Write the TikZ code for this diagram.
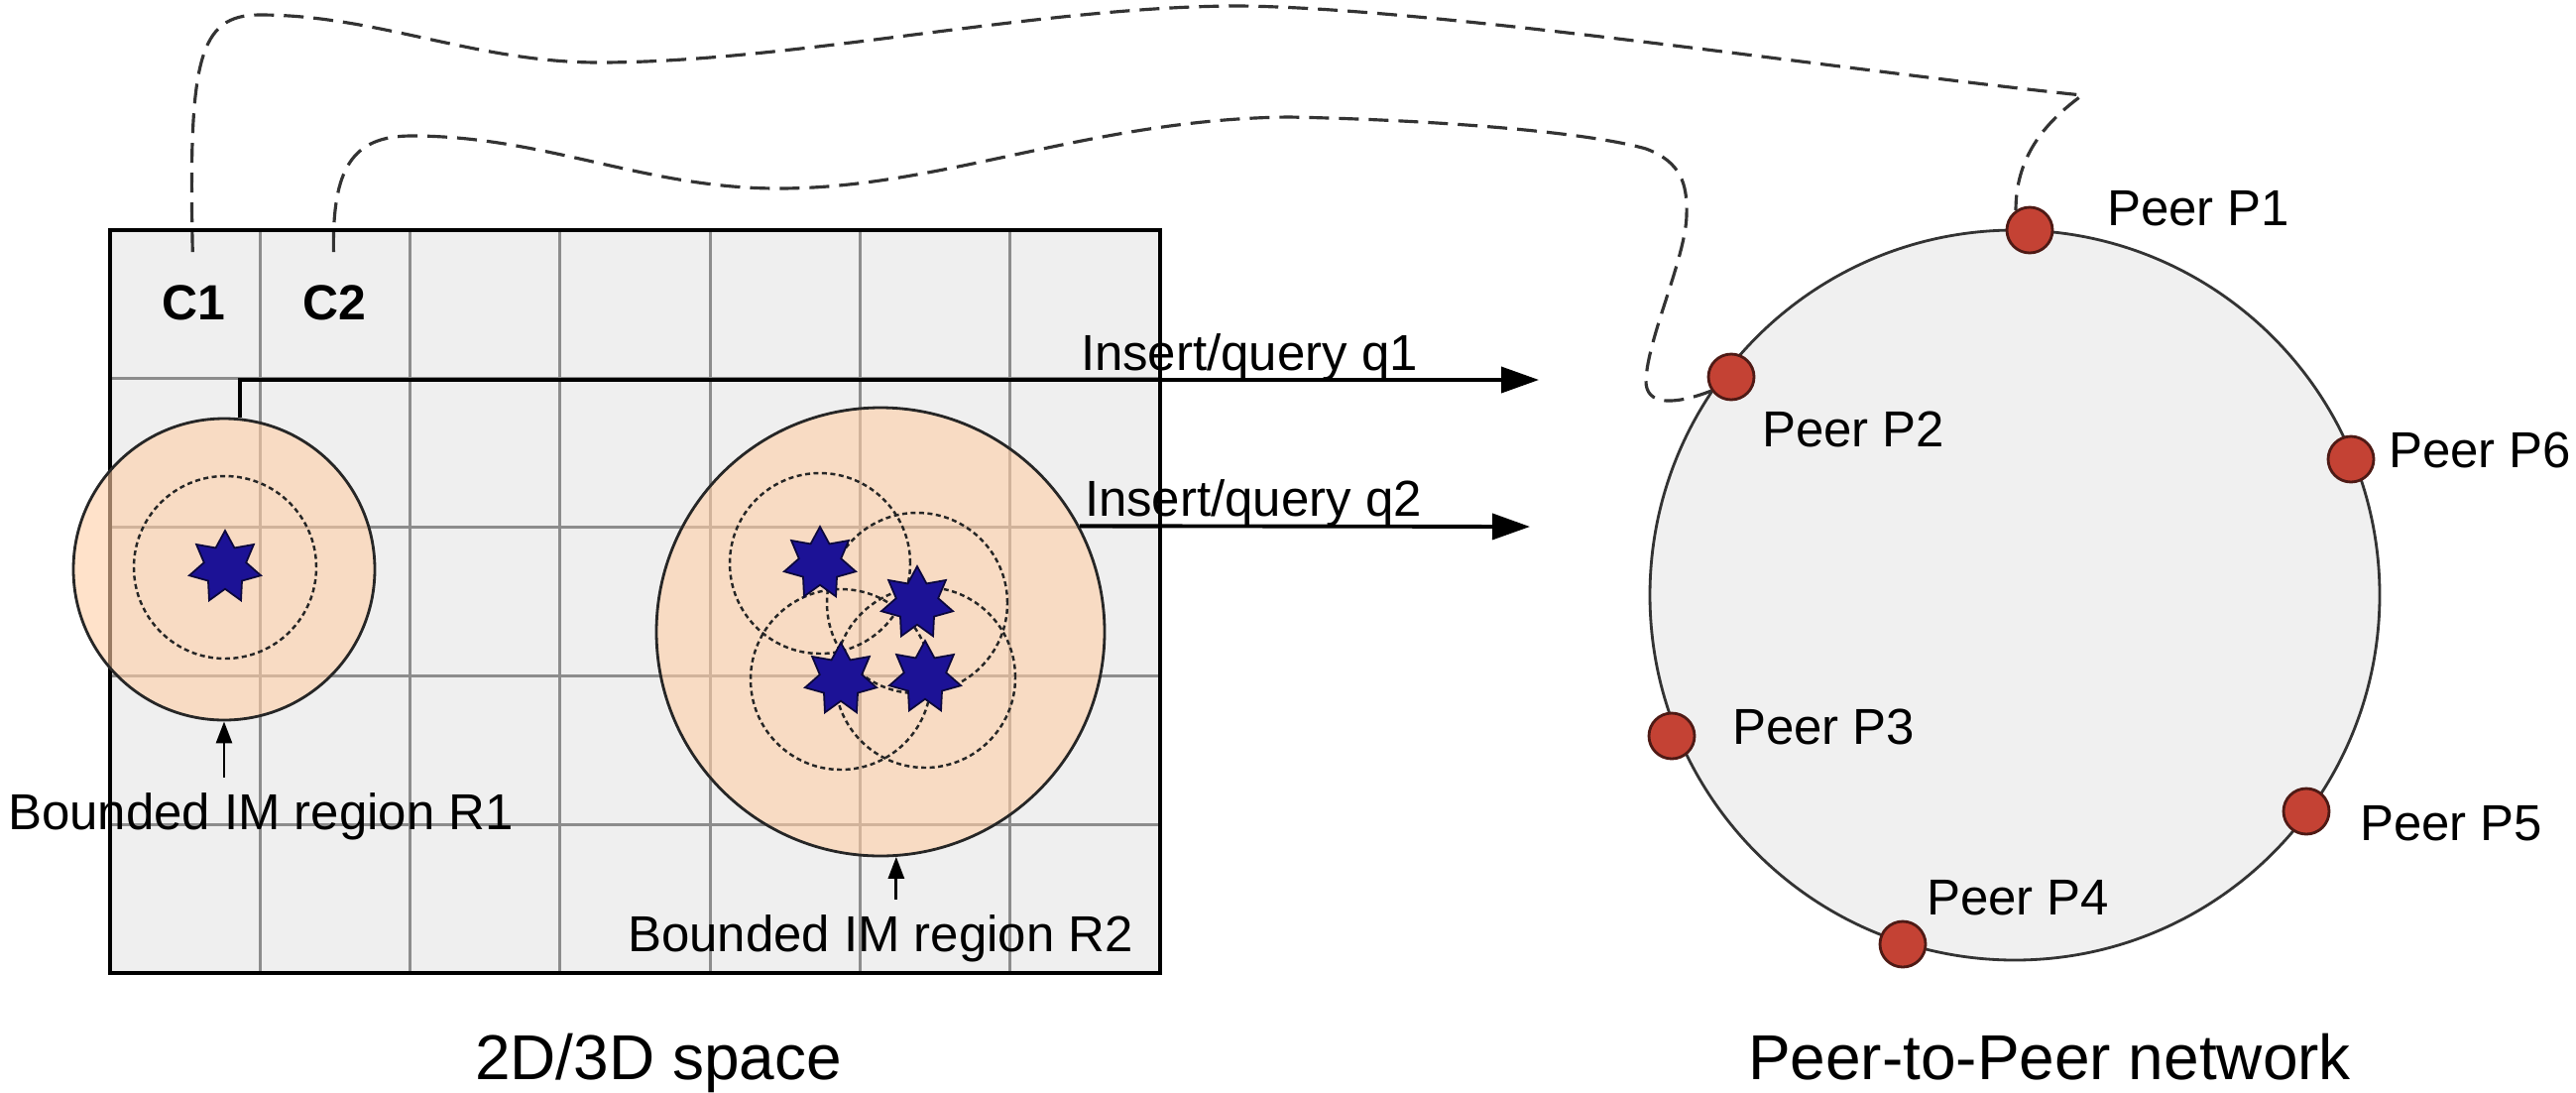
\documentclass[tikz,border=0pt]{standalone}
\usepackage{fontspec}
\setmainfont{Liberation Sans}
\usepackage{tikz}
\usetikzlibrary{shapes.geometric, arrows.meta, positioning}
\definecolor{gridbg}{RGB}{239,239,239}
\definecolor{gridgray}{RGB}{140,140,140}
\definecolor{peach}{RGB}{255,206,166}
\definecolor{starblue}{RGB}{28,18,150}
\definecolor{peerred}{RGB}{196,66,52}
\definecolor{ringbg}{RGB}{240,240,240}
\tikzstyle{region} = [circle, draw=black!85, line width=0.8pt, fill=peach, fill opacity=0.6]
\tikzstyle{spread} = [circle, draw=black!85, line width=0.7pt, dash pattern=on 0.5mm off 0.35mm, minimum size=18.2mm]
\tikzstyle{im} = [star, star points=7, star point ratio=1.7, minimum size=7.4mm, inner sep=0pt, fill=starblue, draw=black!60!starblue, line width=0.5pt]
\tikzstyle{peer} = [circle, minimum size=4.6mm, inner sep=0pt, fill=peerred, draw=black!60!peerred, line width=0.8pt]
\tikzstyle{qarrow} = [line width=1.1pt, -{Triangle[length=3.8mm,width=2.6mm]}]
\tikzstyle{smallarrow} = [line width=0.8pt, -{Triangle[length=2.2mm,width=1.6mm]}, shorten <=1.5mm]
\tikzstyle{link} = [line width=0.9pt, black!80, dash pattern=on 2mm off 1mm]
\tikzstyle{txt} = [inner sep=0pt, outer sep=0pt, font=\fontsize{14.5}{17}\selectfont]
\tikzstyle{cell} = [inner sep=0pt, outer sep=0pt, font=\bfseries\fontsize{14.2}{17}\selectfont]
\tikzstyle{caption} = [inner sep=0pt, outer sep=0pt, font=\fontsize{18.2}{21}\selectfont]

\begin{document}
\begin{tikzpicture}[x=0.1mm, y=-0.1mm]
    \useasboundingbox (0,0) rectangle (2598,1101);

    \fill[gridbg] (111,232) rectangle (1170,981);
    \foreach \i in {1,...,6}
        \draw[gridgray, line width=0.9pt] ({111+\i*151.3},232) -- ({111+\i*151.3},981);
    \foreach \j in {1,...,4}
        \draw[gridgray, line width=0.9pt] (111,{232+\j*149.8}) -- (1170,{232+\j*149.8});
    \draw[line width=1.2pt] (111,232) rectangle (1170,981);

    \node[region, minimum size=30.4mm] (r1) at (226,574) {};
    \node[region, minimum size=45.2mm] (r2) at (888,637) {};

    \node[spread, minimum size=18.4mm] (d0) at (227,572) {};
    \node[spread] (d1) at (827,568) {};
    \node[spread] (d2) at (925,608) {};
    \node[spread] (d3) at (848,685) {};
    \node[spread] (d4) at (933,683) {};

    \node[im] (s0) at (227,572) {};
    \node[im] (s1) at (827,568) {};
    \node[im] (s2) at (925,608) {};
    \node[im] (s3) at (848,685) {};
    \node[im] (s4) at (933,683) {};

    \node[cell, anchor=base] (c1) at (195,322) {C1};
    \node[cell, anchor=base] (c2) at (337,322) {C2};

    \node[txt, anchor=base west] (lq1) at (1090,373) {Insert/query q1};
    \node[txt, anchor=base west] (lq2) at (1094,520) {Insert/query q2};
    \node[txt, anchor=base] (lr1) at (263,836) {Bounded IM region R1};
    \node[txt, anchor=base] (lr2) at (888,959) {Bounded IM region R2};
    \node[caption, anchor=base] (space) at (664,1088) {2D/3D space};

    \node[circle, minimum size=73.6mm, fill=ringbg, draw=black!80, line width=0.8pt] (ring) at (2032,600) {};
    \node[peer] (p1) at (2047,232) {};
    \node[peer] (p2) at (1746,380) {};
    \node[peer] (p3) at (1686,742) {};
    \node[peer] (p4) at (1919,952) {};
    \node[peer] (p5) at (2326,818) {};
    \node[peer] (p6) at (2371,463) {};
    \node[txt, anchor=base west] (lp1) at (2125,227) {Peer P1};
    \node[txt, anchor=base west] (lp2) at (1777,450) {Peer P2};
    \node[txt, anchor=base west] (lp3) at (1747,750) {Peer P3};
    \node[txt, anchor=base west] (lp4) at (1943,922) {Peer P4};
    \node[txt, anchor=base west] (lp5) at (2380,847) {Peer P5};
    \node[txt, anchor=base west] (lp6) at (2409,471) {Peer P6};
    \node[caption, anchor=base] (net) at (2067,1088) {Peer-to-Peer network};

    \coordinate (q1end) at (1552,383);
    \coordinate (q2end) at (1543,531);
    \draw[qarrow] (r1.84) |- (q1end);
    \draw[qarrow] (r2.28) -- (q2end);
    \draw[smallarrow] (r1.south |- lr1.north) -- (r1.south);
    \draw[smallarrow] (r2.-86 |- lr2.north) -- (r2.-86);

    \draw[link, shorten <=3.3mm] (c1.north) .. controls (190,60) and (200,15) .. (262,15)
        .. controls (380,15) and (480,63) .. (604,63)
        .. controls (800,63) and (1050,6) .. (1250,6)
        .. controls (1450,8) and (1850,70) .. (2100,96)
        .. controls (2060,125) and (2033,160) .. (p1.125);
    \draw[link, shorten <=3.3mm] (c2.north) .. controls (335,170) and (355,137) .. (415,137)
        .. controls (550,137) and (650,190) .. (785,190)
        .. controls (950,190) and (1100,120) .. (1300,118)
        .. controls (1450,121) and (1600,133) .. (1660,150)
        .. controls (1695,163) and (1702,185) .. (1701,217)
        .. controls (1700,260) and (1662,340) .. (1660,383)
        .. controls (1659,410) and (1690,408) .. (p2.215);
\end{tikzpicture}
\end{document}
